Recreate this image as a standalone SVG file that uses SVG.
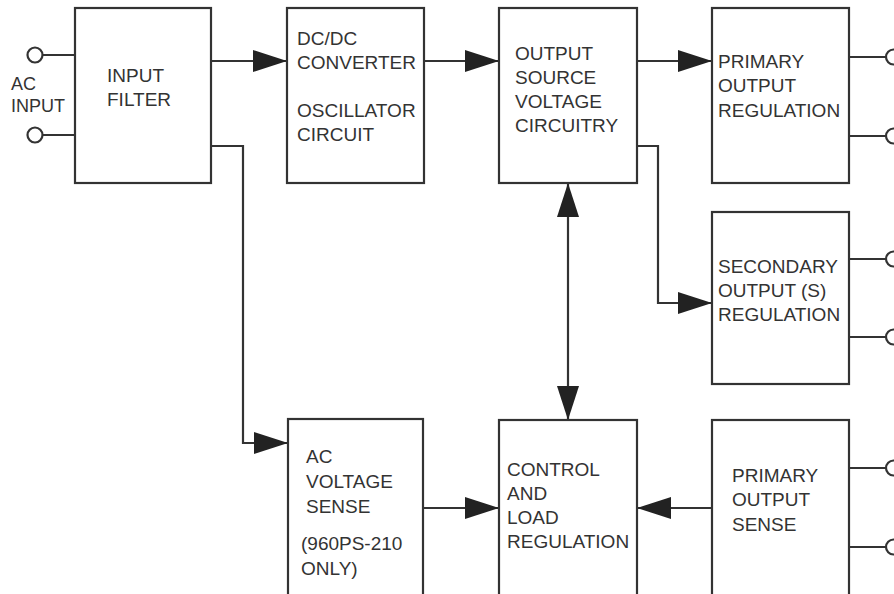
<svg xmlns="http://www.w3.org/2000/svg" width="894" height="594" viewBox="0 0 894 594">
<style>
.box{fill:#fff;stroke:#333;stroke-width:2.2}
.ln{fill:none;stroke:#333;stroke-width:2.2}
.term{fill:#fff;stroke:#333;stroke-width:2.2}
text{font-family:"Liberation Sans",Arial,sans-serif;font-size:19px;fill:#333}
.small{font-size:18px}
</style>
<defs>
<marker id="ah" markerUnits="userSpaceOnUse" markerWidth="34" markerHeight="22" refX="34" refY="11" orient="auto-start-reverse" viewBox="0 0 34 22">
<path d="M0,0 L34,11 L0,22 z" fill="#222"/>
</marker>
</defs>
<rect width="894" height="594" fill="#fff"/>

<g id="connectors">
<path class="ln" d="M211,61 H287" marker-end="url(#ah)"/>
<path class="ln" d="M211,146 H243 V443 H288" marker-end="url(#ah)"/>
<path class="ln" d="M424,61 H499" marker-end="url(#ah)"/>
<path class="ln" d="M637,61 H712" marker-end="url(#ah)"/>
<path class="ln" d="M637,146 H658 V303 H712" marker-end="url(#ah)"/>
<path class="ln" d="M568,183 V420" marker-start="url(#ah)" marker-end="url(#ah)"/>
<path class="ln" d="M423,508 H499" marker-end="url(#ah)"/>
<path class="ln" d="M712,508 H637" marker-end="url(#ah)"/>
<path class="ln" d="M43,55 H75 M43,135 H75"/>
<path class="ln" d="M849,57 H886 M849,136 H886 M849,259 H886 M849,337 H886 M849,468 H886 M849,547 H886"/>
</g>

<g id="ac-input">
<circle class="term" cx="35" cy="55" r="7.5"/>
<circle class="term" cx="35" cy="135" r="7.5"/>
<text class="small" x="11" y="90">AC</text>
<text class="small" x="11" y="112">INPUT</text>
</g>

<g id="outputs">
<circle class="term" cx="893.5" cy="57" r="7.5"/>
<circle class="term" cx="893.5" cy="136" r="7.5"/>
<circle class="term" cx="893.5" cy="259" r="7.5"/>
<circle class="term" cx="893.5" cy="337" r="7.5"/>
<circle class="term" cx="893.5" cy="468" r="7.5"/>
<circle class="term" cx="893.5" cy="547" r="7.5"/>
</g>

<g id="input-filter">
<rect class="box" x="75" y="8" width="136" height="175"/>
<text x="107" y="82">INPUT</text>
<text x="107" y="106">FILTER</text>
</g>

<g id="dcdc-converter">
<rect class="box" x="287" y="8" width="137" height="175"/>
<text x="297" y="45">DC/DC</text>
<text x="297" y="69">CONVERTER</text>
<text x="297" y="117">OSCILLATOR</text>
<text x="297" y="141">CIRCUIT</text>
</g>

<g id="output-source">
<rect class="box" x="499" y="8" width="138" height="175"/>
<text x="515" y="60">OUTPUT</text>
<text x="515" y="84">SOURCE</text>
<text x="515" y="108">VOLTAGE</text>
<text x="515" y="132">CIRCUITRY</text>
</g>

<g id="primary-output-regulation">
<rect class="box" x="712" y="8" width="137" height="175"/>
<text x="718" y="68">PRIMARY</text>
<text x="718" y="92">OUTPUT</text>
<text x="718" y="117">REGULATION</text>
</g>

<g id="secondary-output-regulation">
<rect class="box" x="712" y="212" width="137" height="172"/>
<text x="718" y="273">SECONDARY</text>
<text x="718" y="297">OUTPUT (S)</text>
<text x="718" y="321">REGULATION</text>
</g>

<g id="ac-voltage-sense">
<rect class="box" x="288" y="419" width="135" height="190"/>
<text x="306" y="463">AC</text>
<text x="306" y="488">VOLTAGE</text>
<text x="306" y="513">SENSE</text>
<text x="301" y="550">(960PS-210</text>
<text x="301" y="575">ONLY)</text>
</g>

<g id="control-load-regulation">
<rect class="box" x="499" y="420" width="138" height="190"/>
<text x="507" y="476">CONTROL</text>
<text x="507" y="500">AND</text>
<text x="507" y="524">LOAD</text>
<text x="507" y="548">REGULATION</text>
</g>

<g id="primary-output-sense">
<rect class="box" x="712" y="420" width="137" height="190"/>
<text x="732" y="482">PRIMARY</text>
<text x="732" y="506">OUTPUT</text>
<text x="732" y="531">SENSE</text>
</g>
</svg>
